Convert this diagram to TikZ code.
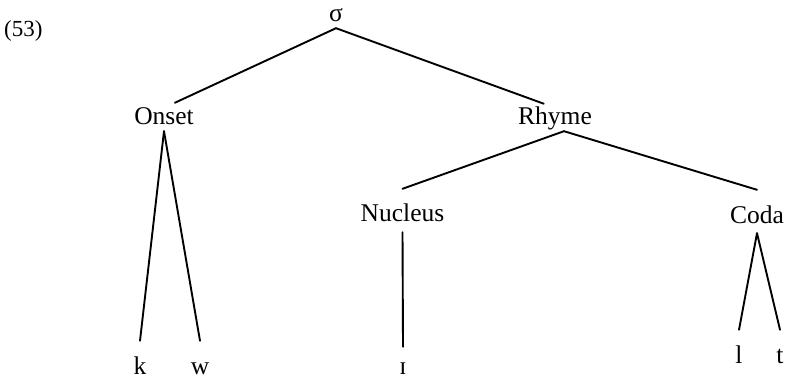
\documentclass[tikz,border=0pt]{standalone}
\usepackage{fontspec}
\setmainfont{Liberation Serif}
\usepackage{tikz}
\tikzset{
  tnode/.style={font=\fontsize{25.5}{30}\selectfont,inner sep=0pt,anchor=base,
    text height=17pt,text depth=6pt},
  lower/.style={tnode,text height=33pt,text depth=10pt},
  seg/.style={tnode,text height=33pt,text depth=2pt},
  branch/.style={line width=1.9pt,line cap=round},
  topbranch/.style={branch,shorten >=12pt},
  exnum/.style={font=\fontsize{23}{28}\selectfont,inner sep=0pt,anchor=base west}
}

\begin{document}
\begin{tikzpicture}[x=1pt,y=-1pt]
  \useasboundingbox (0,0) rectangle (786,379);
  \node[exnum] (num) at (4,37) {(53)};
  % syllable and its two halves
  \node[tnode] (sigma) at (336,22) {σ};
  \node[tnode] (onset) at (164,125) {Onset};
  \node[tnode] (rhyme) at (555,125) {Rhyme};
  \node[lower] (nucleus) at (402.5,222) {Nucleus};
  \node[lower] (coda) at (757,223) {Coda};
  % segments
  \node[seg] (k) at (140,374) {k};
  \node[seg] (w) at (200,374) {w};
  \node[seg,text height=27pt] (vowel) at (403,374) {ɪ};
  \node[seg] (l) at (739,363) {l};
  \node[seg] (t) at (780,363) {t};
  \draw[topbranch] (sigma.south) -- (onset.north);
  \draw[topbranch] (sigma.south) -- (rhyme.north);
  \draw[branch] (onset.south) -- (k.north);
  \draw[branch] (onset.south) -- (w.north);
  \draw[branch] ([xshift=9pt]rhyme.south) -- (nucleus.north);
  \draw[branch] ([xshift=9pt]rhyme.south) -- (coda.north);
  \draw[branch] (nucleus.south) -- (vowel.north);
  \draw[branch] (coda.south) -- (l.north);
  \draw[branch] (coda.south) -- (t.north);
\end{tikzpicture}
\end{document}
